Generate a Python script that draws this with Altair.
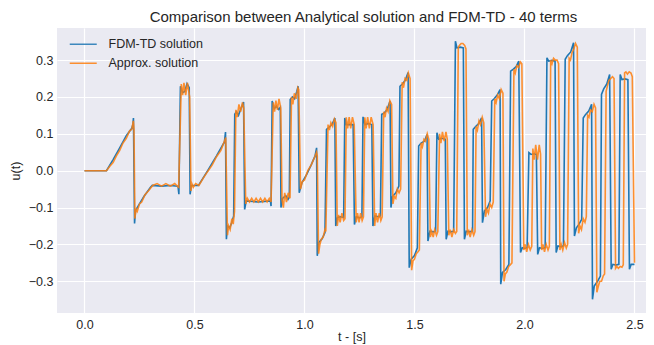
import altair as alt
import pandas as pd

series_names = ["FDM-TD solution", "Approx. solution"]
series_colors = ["#1f77b4", "#ff7f0e"]
x_ticks = [0.0, 0.5, 1.0, 1.5, 2.0, 2.5]
y_ticks = [-0.3, -0.2, -0.1, 0.0, 0.1, 0.2, 0.3]

# FDM-TD solution (t, u)
fdm_points = [
    (0.000, 0.000), (0.100, 0.000), (0.130, 0.030), (0.160, 0.062), (0.190, 0.095), (0.215, 0.115), (0.220, 0.125), (0.2225, 0.143),
    (0.2275, -0.143), (0.232, -0.108), (0.245, -0.095), (0.270, -0.070), (0.300, -0.045), (0.308, -0.040),
    (0.350, -0.042), (0.390, -0.040), (0.425, -0.042), (0.429, -0.064),
    (0.436, 0.229), (0.446, 0.212), (0.456, 0.215), (0.466, 0.236), (0.476, 0.225),
    (0.480, -0.064), (0.486, -0.040), (0.518, -0.040),
    (0.560, 0.000), (0.600, 0.040), (0.636, 0.078), (0.641, 0.105),
    (0.645, -0.186), (0.650, -0.150), (0.660, -0.155), (0.670, -0.140), (0.678, -0.123),
    (0.683, 0.153), (0.690, 0.160), (0.700, 0.150), (0.712, 0.170), (0.723, 0.186),
    (0.728, -0.105), (0.735, -0.082), (0.790, -0.085), (0.845, -0.082), (0.848, -0.096),
    (0.853, 0.189), (0.862, 0.168), (0.872, 0.175), (0.882, 0.166), (0.890, 0.172),
    (0.893, -0.100), (0.900, -0.075), (0.915, -0.068), (0.925, -0.078), (0.931, -0.072),
    (0.935, 0.193), (0.945, 0.200), (0.955, 0.195), (0.965, 0.215), (0.971, 0.229),
    (0.976, -0.060), (0.988, -0.033), (1.010, -0.010), (1.030, 0.015), (1.048, 0.040), (1.055, 0.062),
    (1.058, -0.231), (1.065, -0.195), (1.080, -0.185), (1.093, -0.168),
    (1.100, 0.112), (1.110, 0.117), (1.125, 0.125), (1.138, 0.143),
    (1.142, -0.150), (1.150, -0.127), (1.165, -0.125), (1.178, -0.127),
    (1.183, 0.143), (1.190, 0.125), (1.205, 0.125), (1.221, 0.125),
    (1.227, -0.146), (1.235, -0.125), (1.250, -0.128), (1.261, -0.125),
    (1.266, 0.146), (1.275, 0.125), (1.290, 0.128), (1.306, 0.125),
    (1.311, -0.150), (1.320, -0.123), (1.335, -0.125), (1.345, -0.123),
    (1.351, 0.153), (1.360, 0.155), (1.375, 0.165), (1.389, 0.189),
    (1.393, -0.100), (1.400, -0.070), (1.415, -0.060), (1.429, -0.042),
    (1.434, 0.229), (1.445, 0.235), (1.458, 0.245), (1.471, 0.266),
    (1.476, -0.263), (1.485, -0.240), (1.500, -0.230), (1.513, -0.209),
    (1.519, 0.067), (1.530, 0.075), (1.545, 0.080), (1.557, 0.098),
    (1.561, -0.191), (1.570, -0.164), (1.585, -0.166), (1.596, -0.164),
    (1.602, 0.103), (1.610, 0.085), (1.625, 0.088), (1.640, 0.085),
    (1.644, -0.186), (1.652, -0.164), (1.665, -0.166), (1.678, -0.164),
    (1.686, 0.351), (1.693, 0.333), (1.708, 0.335), (1.722, 0.333),
    (1.727, -0.186), (1.735, -0.164), (1.750, -0.166), (1.764, -0.164),
    (1.767, 0.112), (1.778, 0.120), (1.792, 0.128), (1.805, 0.143),
    (1.809, -0.141), (1.818, -0.109), (1.832, -0.100), (1.844, -0.082),
    (1.851, 0.189), (1.862, 0.195), (1.876, 0.205), (1.889, 0.220),
    (1.892, -0.308), (1.900, -0.276), (1.915, -0.268), (1.929, -0.254),
    (1.937, 0.270), (1.948, 0.275), (1.962, 0.282), (1.974, 0.297),
    (1.982, -0.222), (1.990, -0.209), (2.002, -0.211), (2.012, -0.209),
    (2.020, 0.049), (2.030, 0.044), (2.043, 0.046), (2.054, 0.044),
    (2.060, -0.227), (2.068, -0.209), (2.082, -0.211), (2.094, -0.209),
    (2.102, 0.306), (2.110, 0.297), (2.125, 0.299), (2.139, 0.297),
    (2.144, -0.222), (2.152, -0.204), (2.165, -0.206), (2.177, -0.204),
    (2.185, 0.302), (2.195, 0.312), (2.210, 0.322), (2.223, 0.347),
    (2.227, -0.177), (2.236, -0.155), (2.248, -0.145), (2.260, -0.132),
    (2.267, 0.143), (2.277, 0.152), (2.292, 0.162), (2.305, 0.180),
    (2.309, -0.349), (2.317, -0.313), (2.332, -0.300), (2.345, -0.286),
    (2.350, 0.207), (2.360, 0.222), (2.374, 0.235), (2.387, 0.261),
    (2.394, -0.267), (2.402, -0.254), (2.415, -0.256), (2.429, -0.254),
    (2.435, 0.261), (2.443, 0.247), (2.457, 0.249), (2.470, 0.247),
    (2.477, -0.267), (2.485, -0.254), (2.500, -0.254),
]

# Approx. (40-term analytical) solution (t, u)
approx_points = [
    (0.000, 0.000), (0.100, 0.000), (0.115, 0.012), (0.130, 0.022), (0.145, 0.040), (0.160, 0.055), (0.175, 0.075),
    (0.190, 0.088), (0.205, 0.108), (0.215, 0.112), (0.222, 0.135), (0.225, 0.110),
    (0.229, -0.130), (0.232, -0.115), (0.236, -0.105), (0.240, -0.110), (0.250, -0.090), (0.260, -0.085), (0.275, -0.065), (0.290, -0.055), (0.310, -0.040),
    (0.330, -0.035), (0.350, -0.042), (0.370, -0.035), (0.390, -0.042), (0.410, -0.035), (0.428, -0.045),
    (0.440, 0.235), (0.446, 0.205), (0.452, 0.238), (0.460, 0.205), (0.468, 0.238), (0.474, 0.215), (0.478, 0.200),
    (0.484, -0.055), (0.488, -0.035), (0.495, -0.045), (0.505, -0.035), (0.520, -0.040),
    (0.540, -0.020), (0.560, -0.002), (0.580, 0.015), (0.600, 0.038), (0.620, 0.055), (0.636, 0.080), (0.642, 0.090),
    (0.650, -0.175), (0.655, -0.150), (0.662, -0.160), (0.670, -0.130), (0.676, -0.145), (0.682, -0.110),
    (0.688, 0.165), (0.694, 0.145), (0.702, 0.180), (0.710, 0.160), (0.718, 0.185), (0.724, 0.170),
    (0.733, -0.090), (0.740, -0.075), (0.750, -0.085), (0.760, -0.075), (0.770, -0.085), (0.780, -0.075), (0.790, -0.085),
    (0.800, -0.075), (0.810, -0.085), (0.820, -0.075), (0.830, -0.085), (0.840, -0.075), (0.848, -0.085),
    (0.858, 0.185), (0.864, 0.160), (0.870, 0.190), (0.877, 0.165), (0.884, 0.195), (0.892, 0.170),
    (0.898, -0.080), (0.904, -0.100), (0.910, -0.060), (0.918, -0.085), (0.926, -0.060), (0.934, -0.075),
    (0.941, 0.200), (0.947, 0.180), (0.954, 0.210), (0.962, 0.195), (0.970, 0.225), (0.974, 0.220),
    (0.982, -0.050), (0.990, -0.030), (1.000, -0.025), (1.015, 0.000), (1.030, 0.015), (1.045, 0.035), (1.055, 0.050), (1.058, 0.040),
    (1.064, -0.225), (1.070, -0.200), (1.077, -0.185), (1.085, -0.180), (1.093, -0.160), (1.097, -0.165),
    (1.107, 0.125), (1.113, 0.110), (1.120, 0.130), (1.128, 0.120), (1.136, 0.140), (1.143, 0.130),
    (1.149, -0.150), (1.155, -0.120), (1.162, -0.140), (1.170, -0.115), (1.178, -0.135), (1.184, -0.130),
    (1.190, 0.145), (1.196, 0.115), (1.203, 0.145), (1.210, 0.115), (1.218, 0.145), (1.226, 0.125),
    (1.235, -0.140), (1.241, -0.115), (1.248, -0.140), (1.255, -0.115), (1.262, -0.135), (1.268, -0.125),
    (1.274, 0.145), (1.280, 0.115), (1.287, 0.145), (1.295, 0.115), (1.303, 0.145), (1.312, 0.125),
    (1.319, -0.150), (1.325, -0.115), (1.332, -0.140), (1.340, -0.115), (1.347, -0.135), (1.353, -0.125),
    (1.360, 0.160), (1.366, 0.145), (1.373, 0.170), (1.380, 0.160), (1.388, 0.190), (1.396, 0.180),
    (1.402, -0.090), (1.408, -0.070), (1.415, -0.075), (1.422, -0.050), (1.430, -0.060), (1.437, -0.050),
    (1.444, 0.240), (1.450, 0.225), (1.457, 0.250), (1.465, 0.245), (1.472, 0.265), (1.480, 0.250),
    (1.487, -0.270), (1.493, -0.245), (1.500, -0.240), (1.508, -0.225), (1.516, -0.220), (1.522, -0.215),
    (1.530, 0.075), (1.536, 0.065), (1.543, 0.085), (1.550, 0.080), (1.558, 0.100), (1.565, 0.085),
    (1.572, -0.180), (1.578, -0.165), (1.585, -0.180), (1.592, -0.160), (1.600, -0.175), (1.606, -0.165),
    (1.614, 0.100), (1.620, 0.075), (1.627, 0.105), (1.635, 0.080), (1.643, 0.105), (1.649, 0.085),
    (1.656, -0.175), (1.662, -0.160), (1.670, -0.180), (1.678, -0.160), (1.686, -0.170), (1.692, -0.165),
    (1.699, 0.335), (1.705, 0.340), (1.712, 0.345), (1.720, 0.345), (1.728, 0.340), (1.734, 0.330),
    (1.740, -0.175), (1.746, -0.160), (1.753, -0.180), (1.761, -0.160), (1.769, -0.175), (1.775, -0.165),
    (1.780, 0.120), (1.786, 0.110), (1.793, 0.135), (1.800, 0.125), (1.808, 0.145), (1.815, 0.130),
    (1.823, -0.125), (1.829, -0.105), (1.836, -0.115), (1.843, -0.090), (1.851, -0.100), (1.858, -0.085),
    (1.865, 0.195), (1.871, 0.185), (1.878, 0.205), (1.886, 0.195), (1.894, 0.220), (1.902, 0.210),
    (1.907, -0.300), (1.913, -0.280), (1.920, -0.275), (1.928, -0.260), (1.936, -0.255), (1.943, -0.250),
    (1.952, 0.275), (1.958, 0.265), (1.965, 0.285), (1.973, 0.280), (1.981, 0.295), (1.988, 0.290),
    (1.997, -0.215), (2.003, -0.200), (2.010, -0.220), (2.018, -0.200), (2.026, -0.215), (2.033, -0.205),
    (2.038, 0.060), (2.044, 0.030), (2.051, 0.070), (2.059, 0.030), (2.067, 0.070), (2.073, 0.045),
    (2.078, -0.215), (2.084, -0.200), (2.091, -0.220), (2.099, -0.200), (2.107, -0.215), (2.113, -0.205),
    (2.119, 0.300), (2.125, 0.290), (2.132, 0.305), (2.140, 0.300), (2.148, 0.300), (2.155, 0.290),
    (2.161, -0.215), (2.167, -0.200), (2.174, -0.215), (2.182, -0.195), (2.190, -0.210), (2.196, -0.200),
    (2.203, 0.305), (2.209, 0.300), (2.216, 0.320), (2.224, 0.330), (2.232, 0.345), (2.240, 0.335),
    (2.246, -0.170), (2.252, -0.150), (2.259, -0.160), (2.267, -0.130), (2.275, -0.140), (2.281, -0.125),
    (2.287, 0.150), (2.293, 0.145), (2.300, 0.165), (2.308, 0.160), (2.316, 0.180), (2.323, 0.170),
    (2.329, -0.330), (2.335, -0.315), (2.342, -0.300), (2.350, -0.300), (2.358, -0.285), (2.364, -0.280),
    (2.371, 0.215), (2.377, 0.230), (2.384, 0.245), (2.392, 0.250), (2.400, 0.255), (2.407, 0.250),
    (2.414, -0.265), (2.420, -0.260), (2.427, -0.265), (2.435, -0.260), (2.443, -0.262), (2.449, -0.255),
    (2.455, 0.265), (2.461, 0.268), (2.468, 0.262), (2.476, 0.268), (2.484, 0.265), (2.490, 0.255),
    (2.500, -0.250),
]

FONT = "Liberation Sans"
TXT = "#262626"

fdm_df = pd.DataFrame(fdm_points, columns=["t", "u"]).assign(series=series_names[0])
app_df = pd.DataFrame(approx_points, columns=["t", "u"]).assign(series=series_names[1])

x_enc = alt.X("t:Q", scale=alt.Scale(domain=[-0.125, 2.5523], nice=False, zero=False),
              axis=alt.Axis(values=x_ticks, format=".1f", title="t - [s]"))
y_enc = alt.Y("u:Q", scale=alt.Scale(domain=[-0.386, 0.387], nice=False, zero=False),
              axis=alt.Axis(values=y_ticks, format=".1f", title="u(t)"))
color_enc = alt.Color(
    "series:N",
    scale=alt.Scale(domain=series_names, range=series_colors),
    legend=alt.Legend(
        title=None, orient="none", legendX=20, legendY=10,
        symbolType="M-3,0H3", symbolSize=81, symbolStrokeWidth=1.5,
        labelFont=FONT, labelFontSize=12.5, labelColor=TXT, labelOffset=19,
        rowPadding=6, padding=0,
    ),
)

fdm_line = alt.Chart(fdm_df).mark_line(strokeWidth=1.6, clip=True).encode(x=x_enc, y=y_enc, color=color_enc)
app_line = alt.Chart(app_df).mark_line(strokeWidth=1.6, clip=True, opacity=0.85).encode(x=x_enc, y=y_enc, color=color_enc)

chart = (
    alt.layer(fdm_line, app_line)
    .properties(
        width=589, height=285,
        autosize=alt.AutoSizeParams(type="none"),
        padding={"left": 49, "top": 20, "right": 0, "bottom": 32},
        title=alt.TitleParams(
            "Comparison between Analytical solution and FDM-TD - 40 terms",
            font=FONT, fontSize=15, fontWeight="normal", color=TXT, offset=3, dx=12,
        ),
    )
    .configure_view(fill="#EAEAF2", stroke=None)
    .configure_axis(
        labelFont=FONT, labelFontSize=12.5, labelColor=TXT,
        titleFont=FONT, titleFontSize=12.5, titleFontWeight="normal", titleColor=TXT,
        domain=False, ticks=False, tickSize=0, grid=True, gridColor="white", gridWidth=1.2,
    )
    .configure_axisX(labelPadding=5, titlePadding=0)
    .configure_axisY(labelPadding=4, titlePadding=6)
)

chart.save("out.html", embed_options={"renderer": "svg", "actions": False})
